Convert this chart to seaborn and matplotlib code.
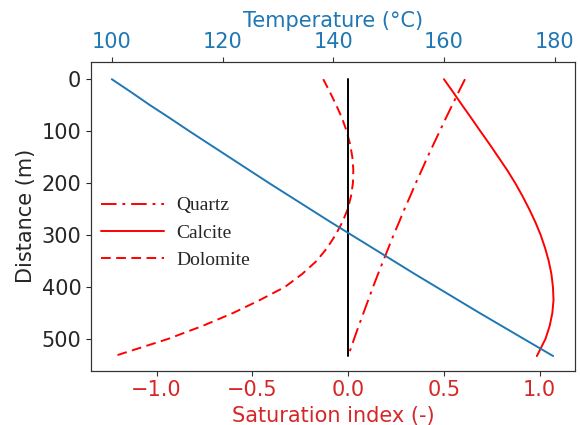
import matplotlib
matplotlib.use("Agg")
import matplotlib.pyplot as plt
import seaborn as sns
import pandas as pd

sns.set_style("ticks")
plt.rcParams['font.family'] = ['DejaVu Sans']

# Distance along the profile (m)
distance = [0, 25, 50, 75, 100, 125, 150, 175, 200, 225, 250, 275,
            300, 325, 350, 375, 400, 425, 450, 475, 500, 533]

# Saturation indices (-)
quartz = [0.61, 0.576, 0.543, 0.510, 0.478, 0.446, 0.414, 0.384, 0.353, 0.324, 0.294, 0.266,
          0.237, 0.210, 0.183, 0.156, 0.130, 0.105, 0.080, 0.055, 0.031, 0.0]
calcite = [0.50, 0.548, 0.595, 0.643, 0.69, 0.738, 0.784, 0.83, 0.872, 0.91, 0.945, 0.977,
           1.005, 1.028, 1.047, 1.061, 1.069, 1.072, 1.066, 1.052, 1.03, 0.985]
dolomite = [-0.13, -0.095, -0.062, -0.032, -0.008, 0.01, 0.022, 0.027, 0.025, 0.015, -0.002, -0.03,
            -0.066, -0.11, -0.165, -0.24, -0.33, -0.46, -0.60, -0.76, -0.94, -1.22]

# Temperature (°C)
temperature = [100.0, 103.5, 106.9, 110.5, 114.0, 117.6, 121.2, 124.8, 128.4, 132.1, 135.8, 139.5,
               143.3, 147.1, 150.9, 154.7, 158.6, 162.5, 166.4, 170.4, 174.4, 179.7]

df = pd.DataFrame({'Distance': distance, 'Quartz': quartz, 'Calcite': calcite,
                   'Dolomite': dolomite, 'Temperature': temperature})

red_label = '#d62728'
blue_label = '#1f77b4'
fs = 15

fig = plt.figure(figsize=(5.8, 4.25), dpi=100)
ax = fig.add_axes([0.157, 0.128, 0.834, 0.726])

sns.lineplot(data=df, x='Quartz', y='Distance', sort=False, estimator=None,
             ax=ax, color='red', linewidth=1.4, label='Quartz')
ax.lines[-1].set_dashes([8, 3, 1.5, 3])
sns.lineplot(data=df, x='Calcite', y='Distance', sort=False, estimator=None,
             ax=ax, color='red', linewidth=1.4, label='Calcite')
sns.lineplot(data=df, x='Dolomite', y='Distance', sort=False, estimator=None,
             ax=ax, color='red', linewidth=1.4, label='Dolomite')
ax.lines[-1].set_dashes([5, 2.8])

# zero saturation reference
sns.lineplot(x=[0, 0], y=[distance[0], distance[-1]], sort=False, estimator=None,
             ax=ax, color='black', linewidth=1.4)

ax.set_xlim(-1.342, 1.183)
ax.set_ylim(561, -33)
ax.set_xticks([-1.0, -0.5, 0.0, 0.5, 1.0])
ax.set_yticks([0, 100, 200, 300, 400, 500])
ax.set_xlabel('Saturation index (-)', color=red_label, fontsize=fs)
ax.set_ylabel('Distance (m)', fontsize=fs)
ax.tick_params(axis='x', colors=red_label, labelsize=fs)
ax.tick_params(axis='x', color='#333333')
ax.tick_params(axis='y', labelsize=fs)

ax.legend(loc='upper left', bbox_to_anchor=(-0.015, 0.62), frameon=False,
          prop={'family': 'Liberation Serif', 'size': 14},
          handlelength=3.2, handletextpad=0.67, labelspacing=0.5)

ax2 = ax.twiny()
sns.lineplot(data=df, x='Temperature', y='Distance', sort=False, estimator=None,
             ax=ax2, color=blue_label, linewidth=1.4)
ax2.set_xlim(96.26, 183.6)
ax2.set_ylim(561, -33)
ax2.set_xticks([100, 120, 140, 160, 180])
ax2.set_xlabel('Temperature (°C)', color=blue_label, fontsize=fs)
ax2.tick_params(axis='x', colors=blue_label, labelsize=fs)
ax2.tick_params(axis='x', color='#333333')

for a in (ax, ax2):
    for s in a.spines.values():
        s.set_color('#333333')
        s.set_visible(True)

fig.savefig('out.png', dpi=100)
